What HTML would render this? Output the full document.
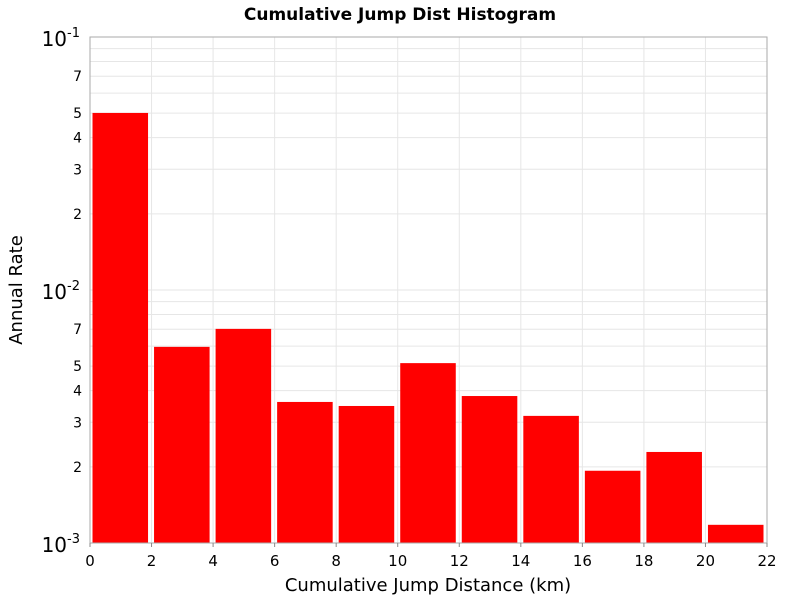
<!DOCTYPE html>
<html><head><meta charset="utf-8"><style>
body{margin:0;background:#fff;font-family:"Liberation Sans","DejaVu Sans",sans-serif}
svg text{font-family:"DejaVu Sans","Liberation Sans",sans-serif}
</style></head><body>
<svg id="chart" width="800" height="600" xmlns="http://www.w3.org/2000/svg">
<rect width="800" height="600" fill="#fff"/>
<text x="400" y="20" text-anchor="middle" font-size="17" font-weight="bold">Cumulative Jump Dist Histogram</text>
<g id="grid"></g><g id="bars"></g>
<rect x="90" y="37" width="677" height="506" fill="none" stroke="#aaa"/>
<g id="axes"></g>
<text x="428" y="591" text-anchor="middle" font-size="18">Cumulative Jump Distance (km)</text>
<text transform="translate(22,290) rotate(-90)" text-anchor="middle" font-size="18">Annual Rate</text>
</svg>
<script>
const binStarts=[0,2,4,6,8,10,12,14,16,18,20];
const binWidth=2;
const rates=[0.0501,0.00596,0.00702,0.00361,0.00348,0.00514,0.00381,0.00318,0.00193,0.00229,0.00118];
const xTicks=[0,2,4,6,8,10,12,14,16,18,20,22];
const minorLabels=[2,3,4,5,7];
const decades=[-3,-2,-1];
const NS="http://www.w3.org/2000/svg";
const X0=90,X1=767,Y0=37,Y1=543;
const xs=v=>X0+(v-0)/(22-0)*(X1-X0);
const ys=v=>Y0+(-1-Math.log10(v))/2*(Y1-Y0);
function mk(t,a,p){const e=document.createElementNS(NS,t);for(const k in a)e.setAttribute(k,a[k]);p.appendChild(e);return e;}
const grid=document.getElementById('grid'),bars=document.getElementById('bars'),axes=document.getElementById('axes');
for(const d of [-3,-2]){for(let m=1;m<10;m++){const v=m*Math.pow(10,d);const y=ys(v);
 const l=mk('line',{x1:X0,x2:X1,y1:y,y2:y,stroke:'#e6e6e6'},grid);
 
 
 if(m>1&&minorLabels.includes(m)){const t=mk('text',{x:82,y:y+5,'text-anchor':'end','font-size':14},axes);t.textContent=m;
 
 }}}
for(const x of xTicks){const px=xs(x);
 const l=mk('line',{x1:px,x2:px,y1:Y0,y2:Y1,stroke:'#e6e6e6'},grid);
 
 
 const tk=mk('line',{x1:px,x2:px,y1:Y1,y2:Y1+4,stroke:'#888'},axes);
 
 
 const t=mk('text',{x:px,y:566,'text-anchor':'middle','font-size':15},axes);t.textContent=x;
 
 }
for(const d of decades){const y=ys(Math.pow(10,d));
 const t=mk('text',{x:80,y:y+9,'text-anchor':'end','font-size':20},axes);
 
 
 t.textContent='10';const s=mk('tspan',{dy:-9,'font-size':13},t);s.textContent=String(d);}
binStarts.forEach((b,i)=>{const x=xs(b)+2.5,w=xs(b+binWidth)-xs(b)-6,y=ys(rates[i]);
 const r=mk('rect',{x:x,y:y,width:w,height:Y1-y,fill:'#ff0000'},bars);
 
 });
</script>
</body></html>
